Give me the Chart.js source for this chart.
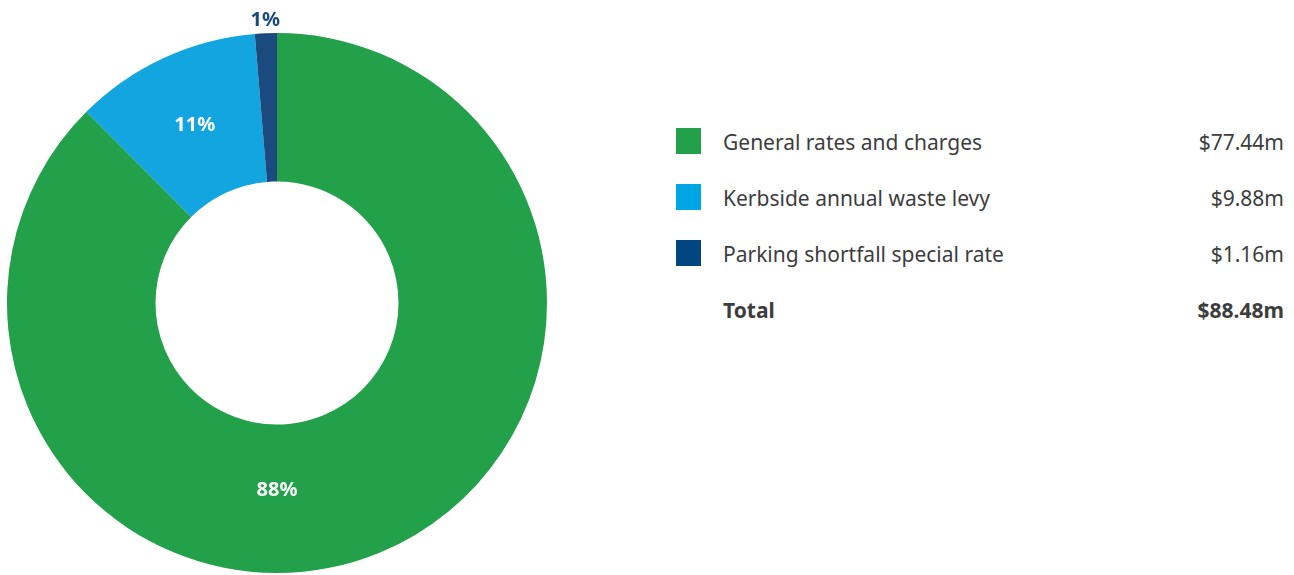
<!DOCTYPE html>
<html>
<head>
<meta charset="utf-8">
<script src="https://cdn.jsdelivr.net/npm/chart.js@4"></script>
<style>
	body { margin: 0; background: #fff; width: 1294px; height: 575px; overflow: hidden; font-family: "Noto Sans", sans-serif; color: #3d3d3d; }
	#chartbox { position: absolute; left: 0; top: 0; width: 554px; height: 575px; }
	#legend { position: absolute; left: 676px; top: 114px; width: 608px; }
	.row { position: relative; height: 56px; font-size: 21px; }
	.sw { position: absolute; left: 0; top: 14px; width: 25px; height: 26px; }
	.lbl { position: absolute; left: 47px; top: 14px; }
	.val { position: absolute; right: 0; top: 14px; }
	.total { font-weight: bold; }
</style>
</head>
<body>
<div id="chartbox"><canvas id="canvasrates"></canvas></div>
<div id="legend"></div>
<script>
var labels = ["General rates and charges", "Kerbside annual waste levy", "Parking shortfall special rate"];
var amounts = [77.44, 9.88, 1.16];
var percents = ["88%", "11%", "1%"];
var sliceColors = ["#22a04a", "#12a5e0", "#1a4a7e"];
var swatchColors = ["#22a04a", "#00a5e3", "#004680"];
var totalLabel = "Total";
var totalAmount = 88.48;

function money(v){ return "$" + v.toFixed(2) + "m"; }

// legend table on the right
var html = "";
for (var i = 0; i < labels.length; i++){
	html += '<div class="row"><div class="sw" style="background:' + swatchColors[i] + '"></div>' +
		'<div class="lbl">' + labels[i] + '</div><div class="val">' + money(amounts[i]) + '</div></div>';
}
html += '<div class="row total"><div class="lbl">' + totalLabel + '</div><div class="val">' + money(totalAmount) + '</div></div>';
document.getElementById('legend').innerHTML = html;

// percent labels on the slices
var sliceLabels = {
	id: 'sliceLabels',
	afterDatasetsDraw: function(chart){
		var ctx = chart.ctx;
		var arcs = chart.getDatasetMeta(0).data;
		ctx.save();
		ctx.font = "bold 20px 'Noto Sans', sans-serif";
		ctx.textAlign = "center";
		ctx.textBaseline = "middle";
		arcs.forEach(function(arc, i){
			var a0 = arc.startAngle, a1 = arc.endAngle;
			var ang = (a0 + a1) / 2;
			var r = (arc.innerRadius + arc.outerRadius) / 2;
			var color = "#ffffff";
			// big slice that covers the bottom: put label at the bottom
			var down = Math.PI / 2;
			if (a1 - a0 > Math.PI && ((down >= a0 && down <= a1) || (down + 2*Math.PI >= a0 && down + 2*Math.PI <= a1))) {
				ang = down;
				r = r * 0.955;
			}
			if ((a1 - a0) / (2*Math.PI) < 0.05) {
				r = arc.outerRadius + 13;
				color = sliceColors[i];
			}
			ctx.fillStyle = color;
			ctx.fillText(percents[i], arc.x + Math.cos(ang) * r, arc.y + Math.sin(ang) * r);
		});
		ctx.restore();
	}
};

new Chart(document.getElementById('canvasrates'), {
	type: 'doughnut',
	data: {
		labels: labels,
		datasets: [{
			data: amounts,
			backgroundColor: sliceColors,
			borderWidth: 0
		}]
	},
	options: {
		responsive: true,
		maintainAspectRatio: false,
		animation: false,
		cutout: '45%',
		layout: { padding: { top: 33, bottom: 2, left: 7, right: 7 } },
		plugins: { legend: { display: false }, tooltip: { enabled: false } }
	},
	plugins: [sliceLabels]
});
</script>
</body>
</html>
